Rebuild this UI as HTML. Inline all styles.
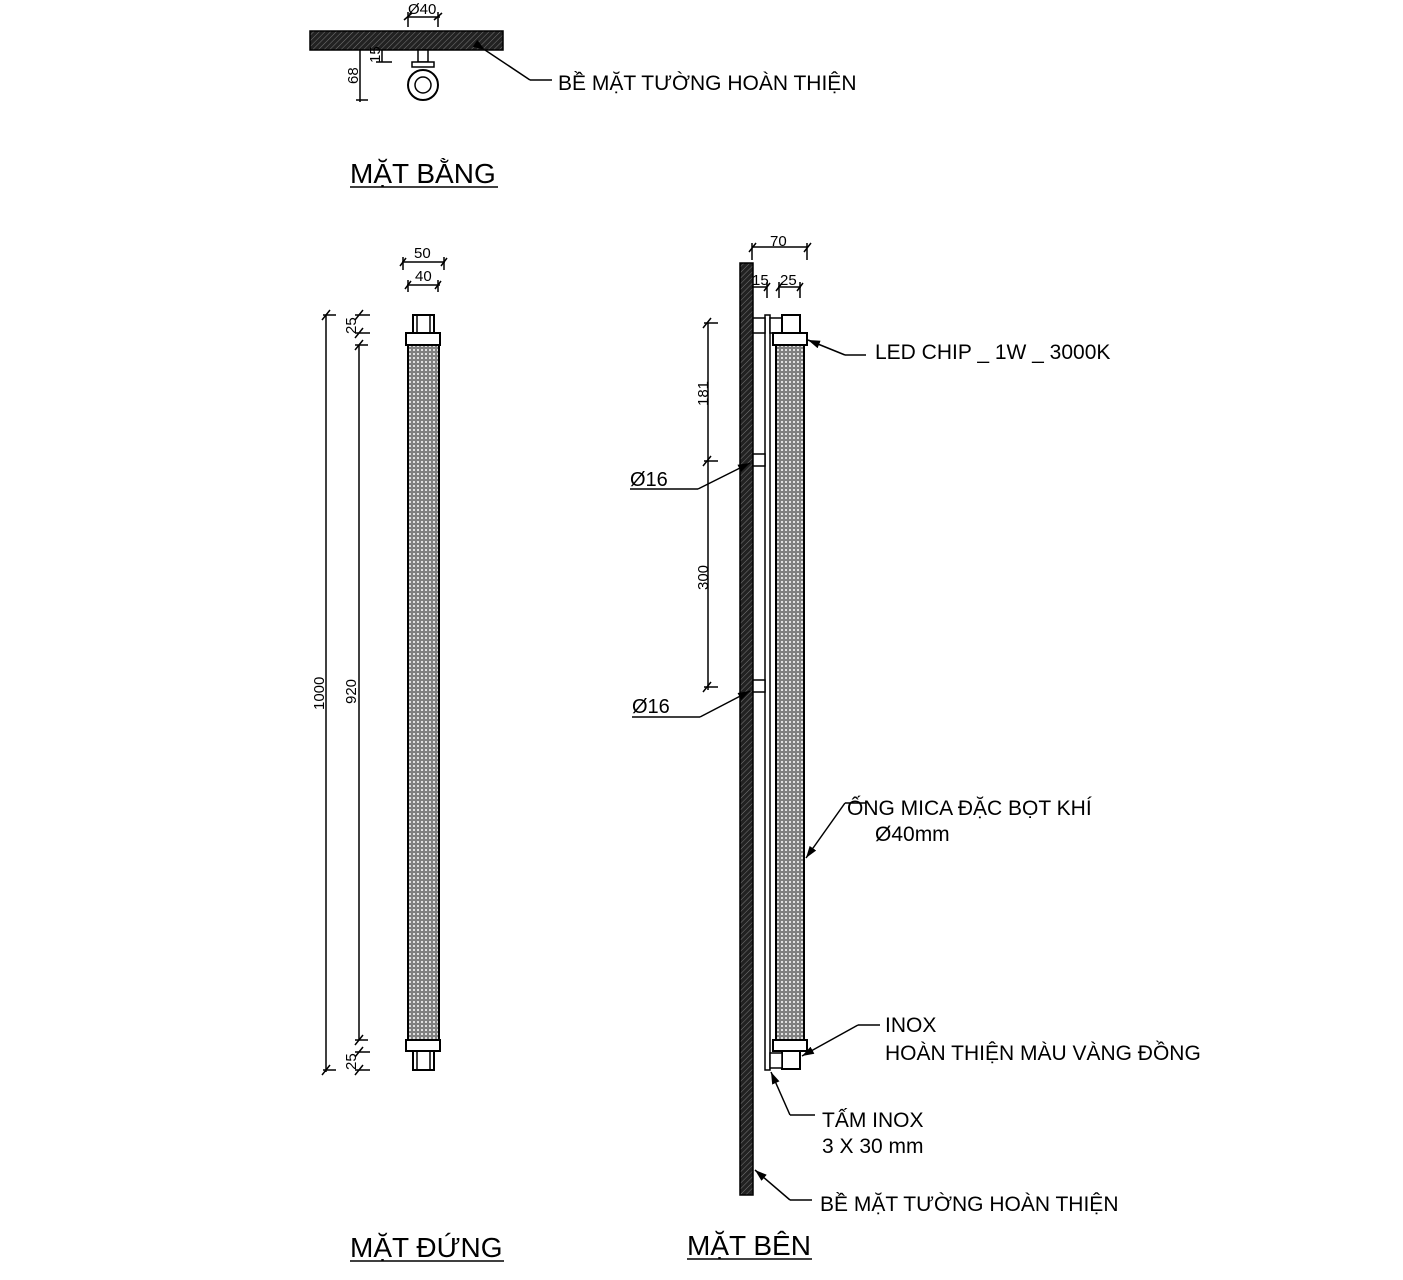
<!DOCTYPE html>
<html><head><meta charset="utf-8"><style>
html,body{margin:0;padding:0;background:#fff;}
svg{display:block;}
text{font-family:"Liberation Sans",sans-serif;fill:#000;}
</style></head><body>
<svg width="1403" height="1280" viewBox="0 0 1403 1280" xmlns="http://www.w3.org/2000/svg">
<defs>
<pattern id="hatch" width="4" height="4" patternUnits="userSpaceOnUse" patternTransform="rotate(45)">
<rect width="4" height="4" fill="#222"/><line x1="0" y1="0" x2="0" y2="4" stroke="#777" stroke-width="1"/>
</pattern>
<pattern id="mesh" width="4" height="4" patternUnits="userSpaceOnUse">
<rect width="4" height="4" fill="#808080"/><rect x="1" y="1" width="2" height="2" fill="#e0e0e0"/>
</pattern>
<marker id="ar" markerWidth="12" markerHeight="8" refX="12" refY="4" orient="auto" markerUnits="userSpaceOnUse">
<path d="M0,0 L12,4 L0,8 z" fill="#000"/>
</marker>
</defs>
<g stroke="#000" stroke-width="1.5" fill="none">
<!-- PLAN -->
<rect x="310" y="31" width="193" height="19" fill="url(#hatch)"/>
<line x1="407" y1="17" x2="440" y2="17"/><line x1="408" y1="12" x2="408" y2="27"/><line x1="438" y1="12" x2="438" y2="27"/>
<path d="M404,20 L412,13 M434,20 L442,13"/>
<rect x="418" y="50" width="10" height="12" fill="#fff"/>
<rect x="412" y="62" width="22" height="5" fill="#fff"/>
<circle cx="423" cy="85" r="15" fill="#fff" stroke-width="2"/><circle cx="423" cy="85" r="8"/>
<line x1="360" y1="50" x2="360" y2="102"/><line x1="356" y1="100" x2="368" y2="100"/>
<line x1="382" y1="50" x2="382" y2="62"/><line x1="376" y1="62" x2="392" y2="62"/>
<line x1="485" y1="50" x2="530" y2="80" marker-start="url(#ar)"/><line x1="530" y1="80" x2="552" y2="80"/>
<!-- FRONT -->
<line x1="402" y1="262" x2="445" y2="262"/><line x1="403" y1="257" x2="403" y2="270"/><line x1="444" y1="257" x2="444" y2="270"/>
<line x1="407" y1="285" x2="440" y2="285"/><line x1="408" y1="280" x2="408" y2="292"/><line x1="438" y1="280" x2="438" y2="292"/>
<path d="M400,266 L406,258 M441,266 L447,258 M405,289 L411,281 M435,289 L441,281"/>
<rect x="413" y="315" width="21" height="18" fill="#fff" stroke-width="2"/>
<rect x="417" y="315" width="13" height="18"/>
<rect x="406" y="333" width="34" height="12" fill="#fff" stroke-width="2"/>
<rect x="408" y="345" width="31" height="695" fill="url(#mesh)" stroke-width="2"/>
<rect x="406" y="1040" width="34" height="11" fill="#fff" stroke-width="2"/>
<rect x="413" y="1051" width="21" height="19" fill="#fff" stroke-width="2"/>
<rect x="417" y="1051" width="13" height="19"/>
<line x1="326" y1="315" x2="326" y2="1072"/>
<line x1="323" y1="315" x2="336" y2="315"/><line x1="323" y1="1070" x2="336" y2="1070"/>
<path d="M322,320 L330,310 M322,1075 L330,1065"/>
<line x1="359" y1="345" x2="359" y2="1040"/>
<line x1="355" y1="315" x2="370" y2="315"/><line x1="355" y1="333" x2="370" y2="333"/>
<line x1="355" y1="345" x2="368" y2="345"/><line x1="355" y1="1040" x2="368" y2="1040"/>
<line x1="355" y1="1052" x2="370" y2="1052"/><line x1="355" y1="1070" x2="370" y2="1070"/>
<path d="M355,320 L363,310 M355,338 L363,328 M355,350 L363,340 M355,1045 L363,1035 M355,1057 L363,1047 M355,1075 L363,1065"/>
<!-- SIDE -->
<rect x="740" y="263" width="13" height="932" fill="url(#hatch)"/>
<line x1="752" y1="247" x2="808" y2="247"/><line x1="752" y1="243" x2="752" y2="260"/><line x1="807" y1="243" x2="807" y2="260"/>
<path d="M749,252 L756,243 M804,252 L811,243"/>
<line x1="752" y1="287" x2="767" y2="287"/><line x1="767" y1="282" x2="767" y2="298"/>
<line x1="778" y1="287" x2="801" y2="287"/><line x1="779" y1="282" x2="779" y2="298"/><line x1="800" y1="282" x2="800" y2="298"/>
<path d="M764,291 L770,283 M776,291 L782,283 M797,291 L803,283"/>
<rect x="765" y="315" width="5" height="755" fill="#fff"/>
<rect x="753" y="318" width="12" height="15" fill="#fff"/>
<rect x="770" y="318" width="12" height="15" fill="#fff"/>
<rect x="782" y="315" width="18" height="18" fill="#fff" stroke-width="2"/>
<rect x="773" y="333" width="34" height="12" fill="#fff" stroke-width="2"/>
<rect x="776" y="345" width="28" height="695" fill="url(#mesh)" stroke-width="2"/>
<rect x="773" y="1040" width="34" height="11" fill="#fff" stroke-width="2"/>
<rect x="782" y="1051" width="18" height="18" fill="#fff" stroke-width="2"/>
<rect x="770" y="1053" width="12" height="15" fill="#fff"/>
<rect x="753" y="454" width="12" height="12" fill="#fff"/>
<rect x="753" y="680" width="12" height="12" fill="#fff"/>
<line x1="708" y1="323" x2="708" y2="690"/>
<line x1="704" y1="323" x2="718" y2="323"/><line x1="704" y1="461" x2="718" y2="461"/><line x1="704" y1="687" x2="718" y2="687"/>
<path d="M703,328 L711,318 M703,466 L711,456 M703,692 L711,682"/>
<line x1="845" y1="355" x2="808" y2="340" marker-end="url(#ar)"/><line x1="845" y1="355" x2="866" y2="355"/>
<line x1="630" y1="489" x2="698" y2="489"/><line x1="698" y1="489" x2="750" y2="463" marker-end="url(#ar)"/>
<line x1="632" y1="717" x2="700" y2="717"/><line x1="700" y1="717" x2="750" y2="691" marker-end="url(#ar)"/>
<line x1="845" y1="803" x2="866" y2="803"/><line x1="845" y1="803" x2="806" y2="858" marker-end="url(#ar)"/>
<line x1="858" y1="1025" x2="880" y2="1025"/><line x1="858" y1="1025" x2="802" y2="1056" marker-end="url(#ar)"/>
<line x1="790" y1="1115" x2="815" y2="1115"/><line x1="790" y1="1115" x2="771" y2="1072" marker-end="url(#ar)"/>
<line x1="790" y1="1200" x2="812" y2="1200"/><line x1="790" y1="1200" x2="755" y2="1170" marker-end="url(#ar)"/>
<line x1="350" y1="187" x2="498" y2="187"/>
<line x1="350" y1="1261" x2="504" y2="1261"/>
<line x1="687" y1="1259" x2="812" y2="1259"/>
</g>
<g font-size="15">
<text x="408" y="14">Ø40</text>
<text transform="translate(358,84) rotate(-90)">68</text>
<text transform="translate(380,63) rotate(-90)">15</text>
<text x="414" y="258">50</text>
<text x="415" y="281">40</text>
<text transform="translate(324,710) rotate(-90)">1000</text>
<text transform="translate(356,704) rotate(-90)">920</text>
<text transform="translate(356,334) rotate(-90)">25</text>
<text transform="translate(356,1070) rotate(-90)">25</text>
<text x="770" y="246">70</text>
<text x="752" y="285">15</text>
<text x="780" y="285">25</text>
<text transform="translate(708,406) rotate(-90)">181</text>
<text transform="translate(708,590) rotate(-90)">300</text>
</g>
<g font-size="21">
<text x="558" y="90">BỀ MẶT TƯỜNG HOÀN THIỆN</text>
<text x="875" y="359">LED CHIP _ 1W _ 3000K</text>
<text x="847" y="815">ỐNG MICA ĐẶC BỌT KHÍ</text>
<text x="875" y="841">Ø40mm</text>
<text x="885" y="1032">INOX</text>
<text x="885" y="1060">HOÀN THIỆN MÀU VÀNG ĐỒNG</text>
<text x="822" y="1127">TẤM INOX</text>
<text x="822" y="1153">3 X 30 mm</text>
<text x="820" y="1211">BỀ MẶT TƯỜNG HOÀN THIỆN</text>
</g>
<g font-size="20">
<text x="630" y="486">Ø16</text>
<text x="632" y="713">Ø16</text>
</g>
<g font-size="28">
<text x="350" y="183">MẶT BẰNG</text>
<text x="350" y="1257">MẶT ĐỨNG</text>
<text x="687" y="1255">MẶT BÊN</text>
</g>
</svg>
</body></html>
